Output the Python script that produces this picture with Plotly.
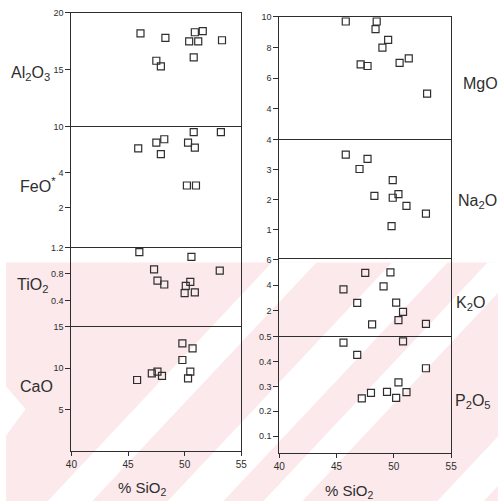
import plotly.graph_objects as go

# Harker variation diagrams: major oxides (wt%) against SiO2 (wt%)
al_sio2 = [46.1, 48.3, 47.5, 47.9, 50.4, 50.9, 51.6, 51.2, 50.8, 53.3]
al2o3 = [18.2, 17.8, 15.8, 15.3, 17.5, 18.3, 18.4, 17.5, 16.1, 17.6]

fe_sio2 = [45.9, 47.5, 48.2, 47.9, 50.3, 50.9, 50.8, 53.2, 50.2, 51.0]
feo = [6.5, 7.3, 7.8, 5.8, 7.3, 6.6, 9.0, 9.0, 3.1, 3.1]

ti_sio2 = [46.0, 50.6, 47.3, 53.1, 47.6, 48.2, 50.1, 50.5, 50.0, 50.9]
tio2 = [1.13, 1.06, 0.87, 0.85, 0.70, 0.64, 0.62, 0.68, 0.51, 0.52]

ca_sio2 = [49.8, 50.7, 49.8, 47.6, 47.1, 48.0, 50.5, 50.3, 45.8]
cao = [13.0, 12.4, 11.0, 9.6, 9.4, 9.1, 9.6, 8.8, 8.6]

mg_sio2 = [45.8, 48.5, 48.4, 49.5, 49.0, 47.1, 47.7, 50.5, 51.3, 52.9]
mgo = [9.7, 9.7, 9.2, 8.5, 8.0, 6.9, 6.8, 7.0, 7.3, 5.0]

na_sio2 = [45.8, 47.7, 47.0, 49.9, 48.3, 49.9, 50.4, 51.1, 52.8, 49.8]
na2o = [3.5, 3.36, 3.02, 2.65, 2.12, 2.06, 2.18, 1.79, 1.53, 1.11]

k_sio2 = [47.5, 49.7, 49.1, 45.6, 46.8, 50.2, 50.8, 50.4, 48.1, 52.8]
k2o = [4.95, 5.0, 3.9, 3.67, 2.62, 2.64, 1.92, 1.28, 0.95, 1.0]

p_sio2 = [45.6, 50.8, 46.8, 52.8, 50.4, 48.0, 49.4, 51.1, 47.2, 50.2]
p2o5 = [0.476, 0.481, 0.427, 0.373, 0.316, 0.274, 0.278, 0.277, 0.252, 0.254]

oxide_labels = ["Al<sub>2</sub>O<sub>3</sub>", "FeO<sup>*</sup>", "TiO<sub>2</sub>", "CaO",
                "MgO", "Na<sub>2</sub>O", "K<sub>2</sub>O", "P<sub>2</sub>O<sub>5</sub>"]
sio2_ticks = [40, 45, 50, 55]
sio2_title = "% SiO<sub>2</sub>"

W, H = 504, 501
INK = "#2e2e2e"
FONT = "Liberation Sans"


def px(x):
    return x / W


def py(y):
    return 1 - y / H


# panel layout in pixels: (x0, x1), y_top, y_bottom
left = (67, 241)
right = (280, 456)
panels = [
    (left, 8, 123), (left, 123, 245), (left, 245, 325), (left, 325, 451),
    (right, 12, 136), (right, 136, 257), (right, 257, 335), (right, 335, 453),
]

series = [
    (al_sio2, al2o3), (fe_sio2, feo), (ti_sio2, tio2), (ca_sio2, cao),
    (mg_sio2, mgo), (na_sio2, na2o), (k_sio2, k2o), (p_sio2, p2o5),
]

yspec = [
    dict(range=[10, 20], tickvals=[20, 15], ticktext=["20", "15"]),
    dict(type="log", range=[-0.0458, 1], tickvals=[10, 4, 2], ticktext=["10", "4", "2"]),
    dict(range=[0, 1.2], tickvals=[1.2, 0.8, 0.4], ticktext=["1.2", "0.8", "0.4"]),
    dict(range=[0, 15], tickvals=[15, 10, 5], ticktext=["15", "10", "5"]),
    dict(range=[2, 10], tickvals=[10, 8, 6, 4], ticktext=["10", "8", "6", "4"]),
    dict(range=[0, 4], tickvals=[4, 3, 2, 1], ticktext=["4", "3", "2", "1"]),
    dict(range=[0, 6], tickvals=[6, 4, 2], ticktext=["6", "4", "2"]),
    dict(range=[0.03, 0.5], tickvals=[0.5, 0.4, 0.3, 0.2, 0.1],
         ticktext=["0.5", "0.4", "0.3", "0.2", "0.1"]),
]

fig = go.Figure()
layout = {}
for i, ((xs, ys), (col, yt, yb), spec) in enumerate(zip(series, panels, yspec), start=1):
    sfx = "" if i == 1 else str(i)
    fig.add_trace(go.Scatter(
        x=xs, y=ys, mode="markers", xaxis="x" + sfx, yaxis="y" + sfx,
        marker=dict(symbol="square-open", size=7, color=INK, line=dict(width=1.2, color=INK)),
        showlegend=False, hoverinfo="x+y",
    ))
    bottom = i in (4, 8)
    # each panel draws its own top edge; the bottom panel also closes the column
    xa = dict(
        domain=[px(col[0]), px(col[1])], anchor="y" + sfx, range=[40, 55],
        side="bottom" if bottom else "top", mirror=bottom,
        showline=True, linecolor=INK, linewidth=1,
        showgrid=False, zeroline=False, showticklabels=False, ticks="",
    )
    if bottom:
        xa.update(ticks="outside", ticklen=4, tickwidth=1, tickcolor=INK,
                  tickvals=sio2_ticks, ticktext=[str(t) for t in sio2_ticks],
                  showticklabels=True, tickfont=dict(size=10, color=INK, family=FONT))
    layout["xaxis" + sfx] = xa
    layout["yaxis" + sfx] = dict(
        domain=[py(yb), py(yt)], anchor="x" + sfx,
        showline=True, mirror=True, linecolor=INK, linewidth=1,
        showgrid=False, zeroline=False,
        ticks="outside", ticklen=5, tickwidth=1, tickcolor=INK,
        tickfont=dict(size=9, color=INK, family=FONT), **spec,
    )

# oxide names beside each panel
label_pos = [(25, 69), (33, 182), (27, 283), (31, 385),
             (486, 79), (483, 198), (476, 302), (478, 401)]
annotations = [
    dict(text=t, x=px(x), y=py(y), xref="paper", yref="paper", showarrow=False,
         font=dict(size=16, color=INK, family=FONT), xanchor="center", yanchor="middle")
    for t, (x, y) in zip(oxide_labels, label_pos)
]
for x, y in [(140, 488), (352, 491)]:
    annotations.append(dict(text=sio2_title, x=px(x), y=py(y), xref="paper", yref="paper",
                            showarrow=False, font=dict(size=15, color=INK, family=FONT),
                            xanchor="center", yanchor="middle"))

# faint rose band with pale diagonal stripes behind the lower half
PINK = "#fbe9eb"
shapes = [dict(type="rect", xref="paper", yref="paper", x0=0, x1=1, y0=0, y1=py(260),
               fillcolor=PINK, line=dict(width=0), layer="below")]


def poly(pts):
    d = "M " + " L ".join(f"{px(a):.4f},{py(b):.4f}" for a, b in pts) + " Z"
    return dict(type="path", xref="paper", yref="paper", path=d,
                fillcolor="white", line=dict(width=0), layer="below")


def stripe(k1, k2, slope=1.05, ytop=260, ybot=501):
    return poly([((k1 - ybot) / slope, ybot), ((k2 - ybot) / slope, ybot),
                 ((k2 - ytop) / slope, ytop), ((k1 - ytop) / slope, ytop)])


for k1, k2 in [(546, 594), (675, 735), (778, 820), (965, 1015)]:
    shapes.append(stripe(k1, k2))
shapes.append(poly([(0, 385), (20, 408), (0, 435)]))

fig.update_layout(
    width=W, height=H, margin=dict(l=0, r=0, t=0, b=0),
    paper_bgcolor="white", plot_bgcolor="rgba(0,0,0,0)",
    font=dict(family=FONT, color=INK),
    annotations=annotations, shapes=shapes, **layout,
)
fig.write_html("out.html")
